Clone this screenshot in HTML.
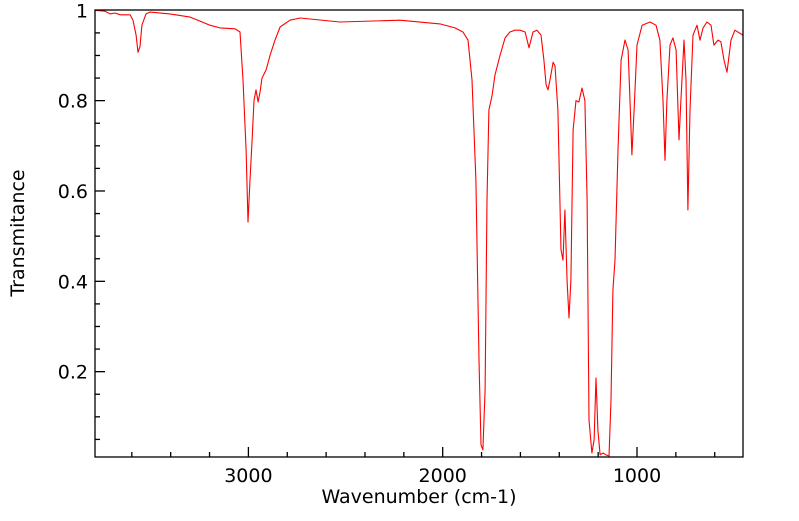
<!DOCTYPE html>
<html><head><meta charset="utf-8"><style>
body{margin:0;background:#fff;}
svg text{font-family:"DejaVu Sans","Liberation Sans",sans-serif;fill:#000;}
</style></head><body>
<svg width="799" height="516" xmlns="http://www.w3.org/2000/svg">
<g id="axes"></g>
<path id="line" fill="none" stroke="#ff0000" stroke-width="1.1" stroke-linejoin="round"/>
<rect x="95" y="10" width="648" height="447" fill="none" stroke="#000" stroke-width="1.3"/>
<text x="419" y="503" font-size="19" text-anchor="middle">Wavenumber (cm-1)</text>
<text transform="translate(24,233) rotate(-90)" font-size="19" text-anchor="middle">Transmitance</text>
</svg>
<script>
const wavenumbers=[3790,3738,3712,3686,3660,3609,3594,3578,3568,3558,3548,3527,3506,3404,3300,3249,3198,3146,3069,3043,3028,3012,3002,2992,2981,2971,2961,2950,2940,2930,2909,2889,2863,2837,2786,2734,2529,2220,2014,1937,1896,1870,1849,1829,1813,1803,1793,1782,1772,1762,1746,1731,1705,1679,1654,1628,1602,1576,1556,1535,1515,1494,1479,1468,1458,1448,1432,1422,1407,1391,1381,1371,1360,1350,1340,1329,1314,1299,1283,1268,1257,1247,1232,1221,1211,1201,1190,1175,1160,1144,1134,1124,1113,1098,1082,1062,1046,1036,1026,1015,1000,974,933,902,882,866,856,846,830,815,799,784,774,758,748,738,727,712,691,676,660,640,619,604,583,568,552,537,516,496,455];
const transmittance=[1.0,0.998,0.992,0.994,0.99,0.99,0.978,0.945,0.907,0.92,0.967,0.992,0.996,0.992,0.985,0.976,0.967,0.961,0.959,0.952,0.846,0.69,0.531,0.624,0.713,0.80,0.824,0.797,0.82,0.85,0.868,0.90,0.934,0.963,0.978,0.983,0.974,0.978,0.97,0.961,0.952,0.934,0.846,0.624,0.226,0.038,0.027,0.16,0.58,0.779,0.812,0.857,0.90,0.939,0.952,0.956,0.956,0.952,0.917,0.952,0.956,0.945,0.89,0.835,0.824,0.846,0.885,0.877,0.779,0.47,0.447,0.558,0.40,0.319,0.403,0.735,0.80,0.797,0.828,0.80,0.58,0.093,0.02,0.049,0.186,0.071,0.016,0.02,0.016,0.013,0.137,0.38,0.447,0.69,0.89,0.934,0.912,0.80,0.68,0.779,0.923,0.967,0.974,0.967,0.934,0.80,0.668,0.80,0.923,0.939,0.912,0.713,0.80,0.934,0.846,0.558,0.779,0.945,0.967,0.934,0.961,0.974,0.967,0.923,0.934,0.93,0.89,0.863,0.934,0.956,0.945];
const xTicks=[3000,2000,1000];
const yTicks=[0.2,0.4,0.6,0.8,1];
const X0=95,X1=743,Y0=10,Y1=457;
const xs=w=>637+(1000-w)*0.1943;
const ys=t=>462-t*451.7;
const NS="http://www.w3.org/2000/svg";
const line=document.getElementById('line');
line.setAttribute('d',wavenumbers.map((w,i)=>(i?'L':'M')+Math.max(X0,Math.min(X1,xs(w))).toFixed(1)+','+Math.max(Y0,Math.min(Y1,ys(transmittance[i]))).toFixed(1)).join(''));
const g=document.getElementById('axes');
function ln(x1,y1,x2,y2,name){const l=document.createElementNS(NS,'line');l.setAttribute('x1',x1);l.setAttribute('y1',y1);l.setAttribute('x2',x2);l.setAttribute('y2',y2);l.setAttribute('stroke','#000');l.setAttribute('stroke-width','1.3');


g.appendChild(l);}
function tx(x,y,s,anchor,name){const t=document.createElementNS(NS,'text');t.setAttribute('x',x);t.setAttribute('y',y);t.setAttribute('font-size','19');t.setAttribute('text-anchor',anchor);t.textContent=s;


g.appendChild(t);}
for(let w=400;w<=3800;w+=200){const x=xs(w);if(x<X0||x>X1)continue;const major=xTicks.includes(w);ln(x,Y1,x,Y1-(major?10:5),'x-tick');}
xTicks.forEach(w=>tx(xs(w),482,String(w),'middle','x-tick-label'));
for(let k=1;k<=20;k++){const t=k*0.05;const y=ys(t);if(y<Y0-1||y>Y1)continue;const major=(k%4===0);ln(X0,y,X0+(major?10:5),y,'y-tick');}
yTicks.forEach(t=>tx(88,ys(t)+7,String(t),'end','y-tick-label'));
</script>
</body></html>
